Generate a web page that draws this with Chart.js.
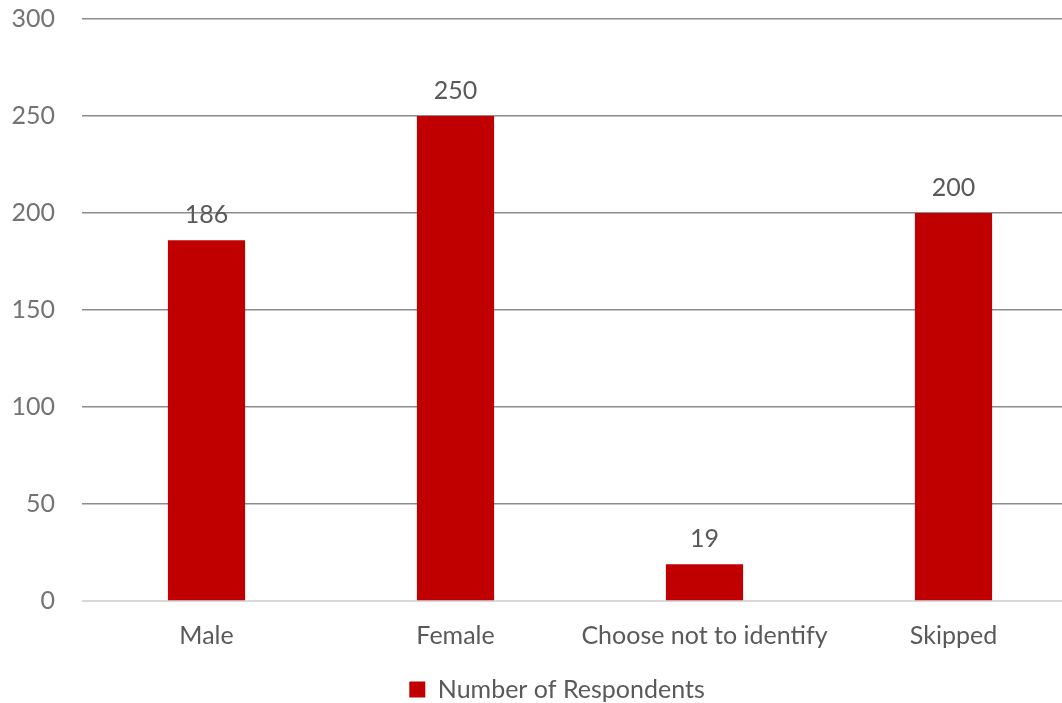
<!DOCTYPE html>
<html lang="en">
<head>
  <meta charset="UTF-8" />
  <title>Number of Respondents</title>
  <script src="https://cdn.jsdelivr.net/npm/chart.js"></script>
  <style>
    html, body {
      margin: 0;
      padding: 0;
      background: #fff;
      overflow: hidden;
    }
    #wrap {
      width: 1113px;
      height: 703px;
    }
  </style>
</head>
<body>
  <div id="wrap"><canvas id="chart"></canvas></div>

  <script>
    const categories = ['Male', 'Female', 'Choose not to identify', 'Skipped'];
    const respondents = [186, 250, 19, 200];
    const seriesName = 'Number of Respondents';

    const FONT = "Lato, 'Open Sans', sans-serif";
    const FSIZE = 25;

    // draws the value above each bar
    const valueLabels = {
      id: 'valueLabels',
      afterDatasetsDraw(chart) {
        const ctx = chart.ctx;
        const meta = chart.getDatasetMeta(0);
        ctx.save();
        ctx.font = FSIZE + 'px ' + FONT;
        ctx.fillStyle = '#595959';
        ctx.textAlign = 'center';
        ctx.textBaseline = 'middle';
        meta.data.forEach((bar, i) => {
          ctx.fillText(respondents[i], bar.x, bar.y - 25);
        });
        ctx.restore();
      }
    };

    // center the legend on the whole canvas, not on the padded area
    const legendShift = {
      id: 'legendShift',
      afterLayout(chart) {
        if (!chart.legend) return;
        chart.legend.left += 18;
        chart.legend.right += 18;
      }
    };

    new Chart(document.getElementById('chart'), {
      type: 'bar',
      data: {
        labels: categories,
        datasets: [{
          label: seriesName,
          data: respondents,
          backgroundColor: '#C00000',
          barPercentage: 0.31,
          categoryPercentage: 1.0
        }]
      },
      options: {
        responsive: true,
        maintainAspectRatio: false,
        animation: false,
        layout: { padding: { top: 19, right: 35, left: 0, bottom: -9 } },
        plugins: {
          legend: {
            position: 'bottom',
            labels: {
              font: { family: FONT, size: FSIZE },
              color: '#595959',
              boxWidth: 16,
              boxHeight: 16,
              padding: 2
            }
          },
          tooltip: { enabled: false }
        },
        scales: {
          x: {
            afterFit(scale) { scale.height += 12; },
            grid: { display: false },
            border: { color: '#d9d9d9', width: 1 },
            ticks: {
              font: { family: FONT, size: FSIZE },
              color: '#595959',
              padding: 12,
              maxRotation: 0,
              autoSkip: false
            }
          },
          y: {
            min: 0,
            max: 300,
            afterFit(scale) {
              scale.width = 82;
              // the top label may stick out above the plot, like the original
              scale.paddingTop = 0;
              scale.paddingBottom = 0;
            },
            grid: {
              color: ctx => ctx.tick && ctx.tick.value === 0 ? '#d9d9d9' : '#8c8c8c',
              lineWidth: 1.5,
              drawTicks: false
            },
            border: { display: false },
            ticks: {
              stepSize: 50,
              font: { family: FONT, size: FSIZE },
              color: '#737373',
              padding: 27
            }
          }
        }
      },
      plugins: [valueLabels, legendShift]
    });
  </script>
</body>
</html>
